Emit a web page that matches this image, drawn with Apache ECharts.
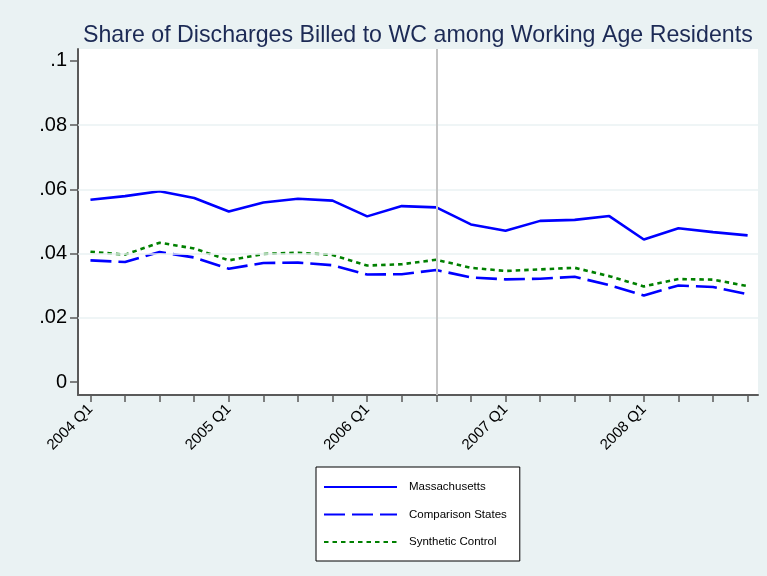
<!DOCTYPE html>
<html>
<head>
<meta charset="utf-8">
<script src="https://cdn.jsdelivr.net/npm/echarts@6/dist/echarts.min.js"></script>
<style>
html,body{margin:0;padding:0;background:#eaf2f3;}
#chart{width:767px;height:576px;}
</style>
</head>
<body>
<div id="chart"></div>
<script>
const categories = ['2004 Q1','2004 Q2','2004 Q3','2004 Q4','2005 Q1','2005 Q2','2005 Q3','2005 Q4',
  '2006 Q1','2006 Q2','2006 Q3','2006 Q4','2007 Q1','2007 Q2','2007 Q3','2007 Q4',
  '2008 Q1','2008 Q2','2008 Q3','2008 Q4'];
const massachusetts = [0.0568,0.0579,0.0594,0.0573,0.0531,0.0559,0.0571,0.0565,0.0516,0.0548,
  0.0544,0.0491,0.0471,0.0502,0.0505,0.0517,0.0444,0.0479,0.0467,0.0457];
const comparisonStates = [0.0379,0.0374,0.0405,0.0388,0.0353,0.0371,0.0372,0.0364,0.0335,0.0336,
  0.0349,0.0326,0.0320,0.0322,0.0328,0.0302,0.0270,0.0301,0.0296,0.0274];
const syntheticControl = [0.0406,0.0397,0.0434,0.0416,0.0379,0.0399,0.0403,0.0396,0.0363,0.0367,
  0.0381,0.0356,0.0346,0.0351,0.0356,0.0330,0.0298,0.0321,0.0319,0.0299];
const yTickValues = [0, 0.02, 0.04, 0.06, 0.08, 0.1];
const yTickLabels = ['0', '.02', '.04', '.06', '.08', '.1'];
const gridValues = [0.02, 0.04, 0.06, 0.08];
const interventionLabel = '2006 Q3';
const seriesNames = ['Massachusetts', 'Comparison States', 'Synthetic Control'];

const idx = categories.map((c, i) => i);
const xLabelValues = idx.filter(i => categories[i].endsWith('Q1'));
const toPairs = arr => arr.map((v, i) => [i, v]);
const FONT = 'Liberation Sans, Arial, sans-serif';

const chart = echarts.init(document.getElementById('chart'));
chart.setOption({
  backgroundColor: '#eaf2f3',
  animation: false,
  title: {
    text: 'Share of Discharges Billed to WC among Working Age Residents',
    left: 83, top: 24, padding: 0,
    textStyle: { fontFamily: FONT, fontSize: 23.2, fontWeight: 'normal', color: '#1c2a55' }
  },
  grid: { left: 78, right: 9, top: 49, bottom: 181, show: true, backgroundColor: '#ffffff', borderWidth: 0 },
  xAxis: {
    type: 'value', min: -0.36, max: 19.3,
    axisLine: { show: true, onZero: false, lineStyle: { color: '#5a5a5a', width: 2 } },
    axisTick: { show: true, length: 7, customValues: idx, lineStyle: { color: '#5a5a5a', width: 1.5 } },
    axisLabel: {
      customValues: xLabelValues, rotate: 45, margin: 12,
      fontFamily: FONT, fontSize: 15, color: '#000',
      formatter: v => categories[Math.round(v)]
    },
    splitLine: { show: false }
  },
  yAxis: {
    type: 'value', min: -0.004, max: 0.1037,
    axisLine: { show: true, onZero: false, lineStyle: { color: '#5a5a5a', width: 2 } },
    axisTick: { show: true, length: 8, customValues: yTickValues, lineStyle: { color: '#5a5a5a', width: 1.5 } },
    axisLabel: {
      customValues: yTickValues, margin: 11,
      fontFamily: FONT, fontSize: 20, color: '#000',
      formatter: v => { const k = yTickValues.findIndex(t => Math.abs(t - v) < 1e-9); return k >= 0 ? yTickLabels[k] : ''; }
    },
    splitLine: { show: false }
  },
  legend: {
    data: seriesNames,
    orient: 'vertical',
    left: 316, top: 467,
    backgroundColor: '#ffffff', borderColor: '#000', borderWidth: 1,
    padding: [14, 13, 13, 7],
    itemWidth: 73, itemHeight: 14, itemGap: 15.5,
    itemStyle: { opacity: 0 },
    textStyle: { fontFamily: FONT, fontSize: 11.5, color: '#000', padding: [0, 0, 0, 7] },
    selectedMode: false
  },
  series: [
    {
      name: 'refs', type: 'line', data: [], z: 1, silent: true,
      markLine: {
        symbol: 'none', silent: true, label: { show: false }, animation: false,
        data: gridValues.map(v => ({ yAxis: v, lineStyle: { color: '#eaf2f3', width: 1.5, type: 'solid' } }))
          .concat([{ xAxis: categories.indexOf(interventionLabel), lineStyle: { color: '#c4c4c4', width: 2, type: 'solid' } }])
      }
    },
    {
      name: seriesNames[0], type: 'line', data: toPairs(massachusetts), z: 3,
      symbol: 'none', lineStyle: { color: '#0000ff', width: 2.6, type: 'solid' },
      itemStyle: { color: '#0000ff' }
    },
    {
      name: seriesNames[1], type: 'line', data: toPairs(comparisonStates), z: 3,
      symbol: 'none', lineStyle: { color: '#0000ff', width: 2.6, type: [21, 7] },
      itemStyle: { color: '#0000ff' }
    },
    {
      name: seriesNames[2], type: 'line', data: toPairs(syntheticControl), z: 3,
      symbol: 'none', lineStyle: { color: '#008000', width: 2.6, type: [4.5, 4] },
      itemStyle: { color: '#008000' }
    }
  ]
});
</script>
</body>
</html>
